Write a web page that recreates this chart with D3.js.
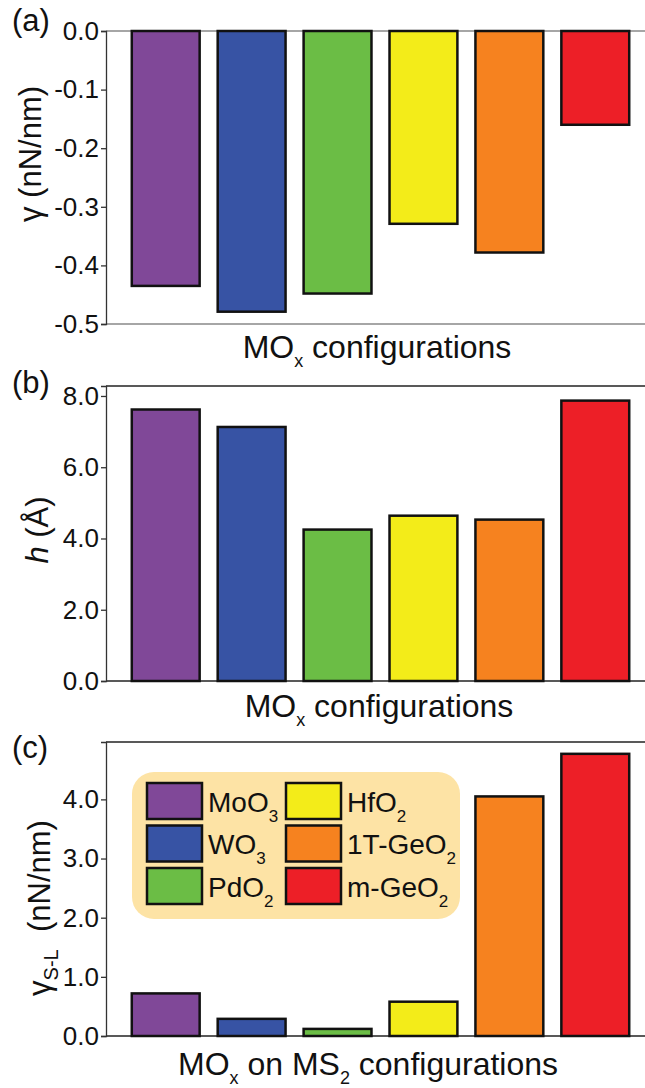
<!DOCTYPE html>
<html>
  <head>
    <meta charset="UTF-8" />
    <script src="https://cdnjs.cloudflare.com/ajax/libs/d3/7.8.5/d3.min.js"></script>
    <style>
      body { margin: 0; background: #fff; }
      svg text { font-family: "Liberation Sans", Arial, sans-serif; fill: #111; }
      .axis text { font-size: 26px; }
      .axis path, .axis line { stroke: #333; stroke-width: 1.3; }
      rect.bar { stroke: #111; stroke-width: 2.5; }
    </style>
  </head>
  <body>
    <script>
      var categories = ["MoO3", "WO3", "PdO2", "HfO2", "1T-GeO2", "m-GeO2"];
      var barColors = ["#804898", "#3753a4", "#6bbd45", "#f3ec19", "#f6821f", "#ed1f27"];

      // (a) gamma, (b) h, (c) gamma S-L
      var gammaValues = [-0.435, -0.479, -0.448, -0.329, -0.378, -0.160];
      var heightValues = [7.62, 7.13, 4.25, 4.64, 4.53, 7.87];
      var gammaSLValues = [0.72, 0.29, 0.12, 0.58, 4.05, 4.77];

      var gammaTicks = [0, -0.1, -0.2, -0.3, -0.4, -0.5];
      var heightTicks = [0, 2, 4, 6, 8];
      var gammaSLTicks = [0, 1, 2, 3, 4];

      var legendBase = ["MoO", "WO", "PdO", "HfO", "1T-GeO", "m-GeO"];
      var legendSub = ["3", "3", "2", "2", "2", "2"];

      var width = 645, height = 1088;
      var left = 106;

      var svg = d3.select("body").append("svg")
        .attr("width", width)
        .attr("height", height);

      var x = d3.scaleBand()
        .domain(categories)
        .range([left, 655])
        .paddingInner(0.21)
        .paddingOuter(0.3);

      var panels = [
        { tag: "(a)", tagY: 31, top: 31, bottom: 324, domain: [-0.5, 0], values: gammaValues,
          ticks: gammaTicks, frame: "#888", titleY: 154, titleX: 41, title: "a", xlabY: 358, xlabX: 377 },
        { tag: "(b)", tagY: 393, top: 386, bottom: 681, domain: [0, 8.28], values: heightValues,
          ticks: heightTicks, frame: "#222", titleY: 530, titleX: 48, title: "b", xlabY: 717, xlabX: 379 },
        { tag: "(c)", tagY: 758, top: 742, bottom: 1036, domain: [0, 4.97], values: gammaSLValues,
          ticks: gammaSLTicks, frame: "#222", titleY: 908, titleX: 50, title: "c", xlabY: 1075, xlabX: 368 }
      ];

      panels.forEach(function(p) {
        var y = d3.scaleLinear().domain(p.domain).range([p.bottom, p.top]);
        var g = svg.append("g");

        // frame: top and bottom run off the right edge
        g.append("line").attr("x1", left).attr("x2", width).attr("y1", p.top).attr("y2", p.top)
          .attr("stroke", p.frame).attr("stroke-width", 1.3);
        g.append("line").attr("x1", left).attr("x2", width).attr("y1", p.bottom).attr("y2", p.bottom)
          .attr("stroke", p.frame).attr("stroke-width", 1.3);

        var axis = g.append("g")
          .attr("class", "axis")
          .attr("transform", "translate(" + left + ",0)")
          .call(d3.axisLeft(y).tickValues(p.ticks).tickSize(5).tickPadding(2)
            .tickFormat(function(d) { return d3.format(".1f")(d).replace("−", "-"); }));
        axis.select("path.domain").attr("stroke", p.frame);

        g.selectAll("rect.bar")
          .data(p.values)
          .enter()
          .append("rect")
          .attr("class", "bar")
          .attr("x", function(d, i) { return x(categories[i]); })
          .attr("width", x.bandwidth())
          .attr("y", function(d) { return Math.min(y(0), y(d)); })
          .attr("height", function(d) { return Math.abs(y(d) - y(0)); })
          .attr("fill", function(d, i) { return barColors[i]; });

        // panel tag
        g.append("text").attr("x", 12).attr("y", p.tagY)
          .style("font-size", "31px").text(p.tag);

        // y title
        var t = g.append("text")
          .attr("transform", "translate(" + p.titleX + "," + p.titleY + ") rotate(-90)")
          .attr("text-anchor", "middle")
          .style("font-size", "31px");
        if (p.title == "a") {
          t.append("tspan").text("γ (nN/nm)");
        } else if (p.title == "b") {
          t.append("tspan").style("font-style", "italic").text("h");
          t.append("tspan").text(" (Å)");
        } else {
          t.append("tspan").text("γ");
          t.append("tspan").attr("dy", 8).style("font-size", "20px").text("S-L");
          t.append("tspan").attr("dy", -8).text("\u00a0\u00a0(nN/nm)");
        }

        // x title
        var xl = g.append("text")
          .attr("x", p.xlabX).attr("y", p.xlabY)
          .attr("text-anchor", "middle")
          .style("font-size", "32px");
        xl.append("tspan").text("MO");
        xl.append("tspan").attr("dy", 9).style("font-size", "18px").text("x");
        if (p.title == "c") {
          xl.append("tspan").attr("dy", -9).text(" on MS");
          xl.append("tspan").attr("dy", 9).style("font-size", "18px").text("2");
          xl.append("tspan").attr("dy", -9).text(" configurations");
        } else {
          xl.append("tspan").attr("dy", -9).text(" configurations");
        }
      });

      // legend in panel (c)
      var legend = svg.append("g");
      legend.append("rect")
        .attr("x", 132).attr("y", 772)
        .attr("width", 328).attr("height", 147)
        .attr("rx", 22).attr("ry", 22)
        .attr("fill", "#fde3a5");

      var colX = [147, 286], rowY = [783, 825.5, 868];
      var items = legend.selectAll("g.item")
        .data(categories)
        .enter()
        .append("g")
        .attr("class", "item")
        .attr("transform", function(d, i) {
          return "translate(" + colX[Math.floor(i / 3)] + "," + rowY[i % 3] + ")";
        });

      items.append("rect")
        .attr("class", "bar")
        .attr("width", 55).attr("height", 36)
        .attr("fill", function(d, i) { return barColors[i]; });

      var lt = items.append("text")
        .attr("x", 61).attr("y", 28.5)
        .style("font-size", "28px");
      lt.append("tspan").text(function(d, i) { return legendBase[i]; });
      lt.append("tspan").attr("dy", 10).style("font-size", "17px")
        .text(function(d, i) { return legendSub[i]; });
    </script>
  </body>
</html>
